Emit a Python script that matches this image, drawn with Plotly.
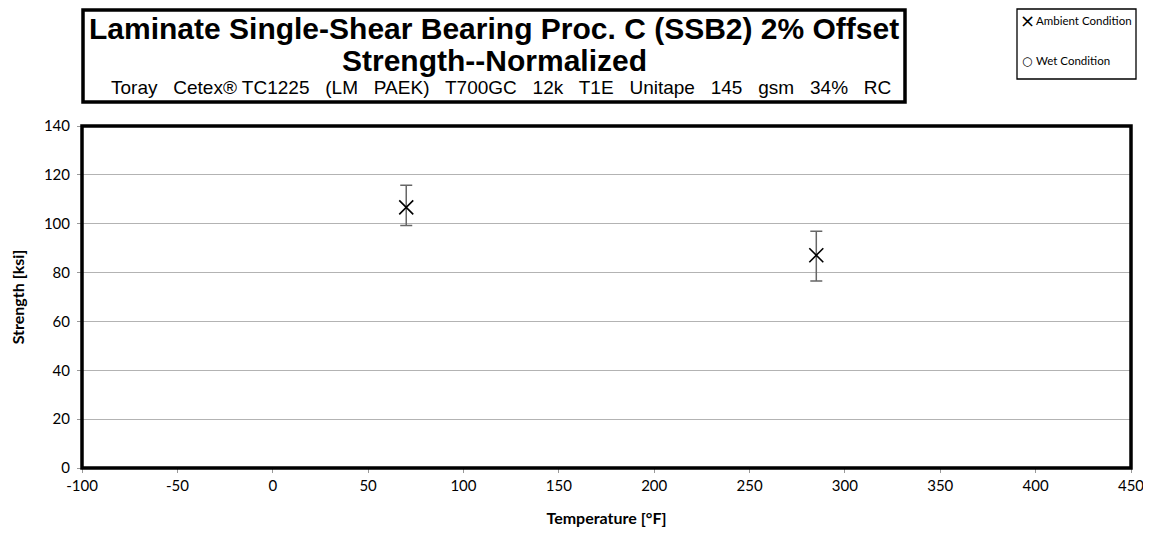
import plotly.graph_objects as go

# Data
amb_temp = [70, 285]
amb_strength = [106.7, 87.1]
amb_err_plus = [9.0, 9.8]
amb_err_minus = [7.4, 10.6]

wet_temp = []
wet_strength = []

x_ticks = [-100, -50, 0, 50, 100, 150, 200, 250, 300, 350, 400, 450]
y_ticks = [0, 20, 40, 60, 80, 100, 120, 140]

legend_names = ["Ambient Condition", "Wet Condition"]
legend_glyphs = ["×", "○"]

title_line1 = "Laminate Single-Shear Bearing Proc. C (SSB2) 2% Offset"
title_line2 = "Strength--Normalized"
subtitle = "Toray   Cetex® TC1225   (LM   PAEK)   T700GC   12k   T1E   Unitape   145   gsm   34%   RC"

FONT = "Lato, Open Sans, Liberation Sans"
tick_font = dict(family=FONT, size=15, color="black")

fig = go.Figure()
fig.add_trace(go.Scatter(
    x=amb_temp, y=amb_strength, mode="markers", name=legend_names[0], showlegend=False,
    marker=dict(symbol="x-thin-open", size=14, color="black", line=dict(width=1.6, color="black")),
    error_y=dict(type="data", symmetric=False, array=amb_err_plus, arrayminus=amb_err_minus,
                 color="#666666", thickness=1.5, width=6),
))
fig.add_trace(go.Scatter(
    x=wet_temp if wet_temp else [None], y=wet_strength if wet_strength else [None],
    mode="markers", name=legend_names[1], showlegend=False,
    marker=dict(symbol="circle-open", size=7, color="black", line=dict(width=1.2, color="black")),
))

# page body has an 8px margin, so figure coords = page coords - 8
W, H = 1143, 536
L, R, T, B = 74, 20, 118, 76
pw, ph = W - L - R, H - T - B

def px(x):
    return (x - L) / pw

def py(y):
    return 1 + (T - y) / ph

fig.update_layout(
    width=W, height=H,
    margin=dict(l=L, r=R, t=T, b=B, autoexpand=False),
    paper_bgcolor="white", plot_bgcolor="white",
    showlegend=False,
    xaxis=dict(range=[-100, 450], tickvals=x_ticks, ticktext=[str(v) for v in x_ticks],
               showgrid=False, zeroline=False, ticks="outside", ticklen=4, tickcolor="#999999",
               showline=True, linecolor="#888888", linewidth=1, tickfont=tick_font, automargin=False,
               title=dict(text="<b>Temperature [°F]</b>", font=dict(family=FONT, size=16, color="black"), standoff=19)),
    yaxis=dict(range=[0, 140], tickvals=y_ticks, ticktext=[str(v) for v in y_ticks],
               showgrid=True, gridcolor="#b3b3b3", gridwidth=1.3, zeroline=False,
               ticks="outside", ticklen=4, tickcolor="#999999", ticklabelstandoff=4,
               showline=True, linecolor="#888888", linewidth=1, tickfont=tick_font, automargin=False,
               title=dict(text="<b>Strength [ksi]</b>", font=dict(family=FONT, size=16, color="black"), standoff=20)),
)

# Plot border
fig.add_shape(type="rect", xref="paper", yref="paper", x0=0, y0=0, x1=1, y1=1,
              line=dict(color="black", width=3.5), layer="above")

# Title box
fig.add_shape(type="rect", xref="paper", yref="paper",
              x0=px(75), x1=px(897), y0=py(94), y1=py(2),
              line=dict(color="black", width=3.5))

title_font = dict(family="Liberation Sans, Arial", size=30, color="black")
cx = px((75 + 897) / 2)
fig.add_annotation(xref="paper", yref="paper", x=cx, y=py(20), text="<b>" + title_line1 + "</b>",
                   showarrow=False, font=title_font, xanchor="center", yanchor="middle")
fig.add_annotation(xref="paper", yref="paper", x=cx, y=py(52), text="<b>" + title_line2 + "</b>",
                   showarrow=False, font=title_font, xanchor="center", yanchor="middle")
fig.add_annotation(xref="paper", yref="paper", x=px(493), y=py(79), text=subtitle,
                   showarrow=False, font=dict(family="Liberation Sans, Arial", size=19, color="black"),
                   xanchor="center", yanchor="middle")

# Legend box (manual)
fig.add_shape(type="rect", xref="paper", yref="paper",
              x0=px(1009), x1=px(1128), y0=py(71), y1=py(1),
              line=dict(color="black", width=1.3))
leg_y = [12, 53]
glyph_sizes = [18, 12]
for name, glyph, gy, gs in zip(legend_names, legend_glyphs, leg_y, glyph_sizes):
    fig.add_annotation(xref="paper", yref="paper", x=px(1019), y=py(gy), text=glyph,
                       showarrow=False, font=dict(family="DejaVu Sans", size=gs, color="black"),
                       xanchor="center", yanchor="middle")
    fig.add_annotation(xref="paper", yref="paper", x=px(1026), y=py(gy), text=name,
                       showarrow=False, font=dict(family=FONT, size=11.5, color="black"),
                       xanchor="left", yanchor="middle")

fig.write_html("out.html")
